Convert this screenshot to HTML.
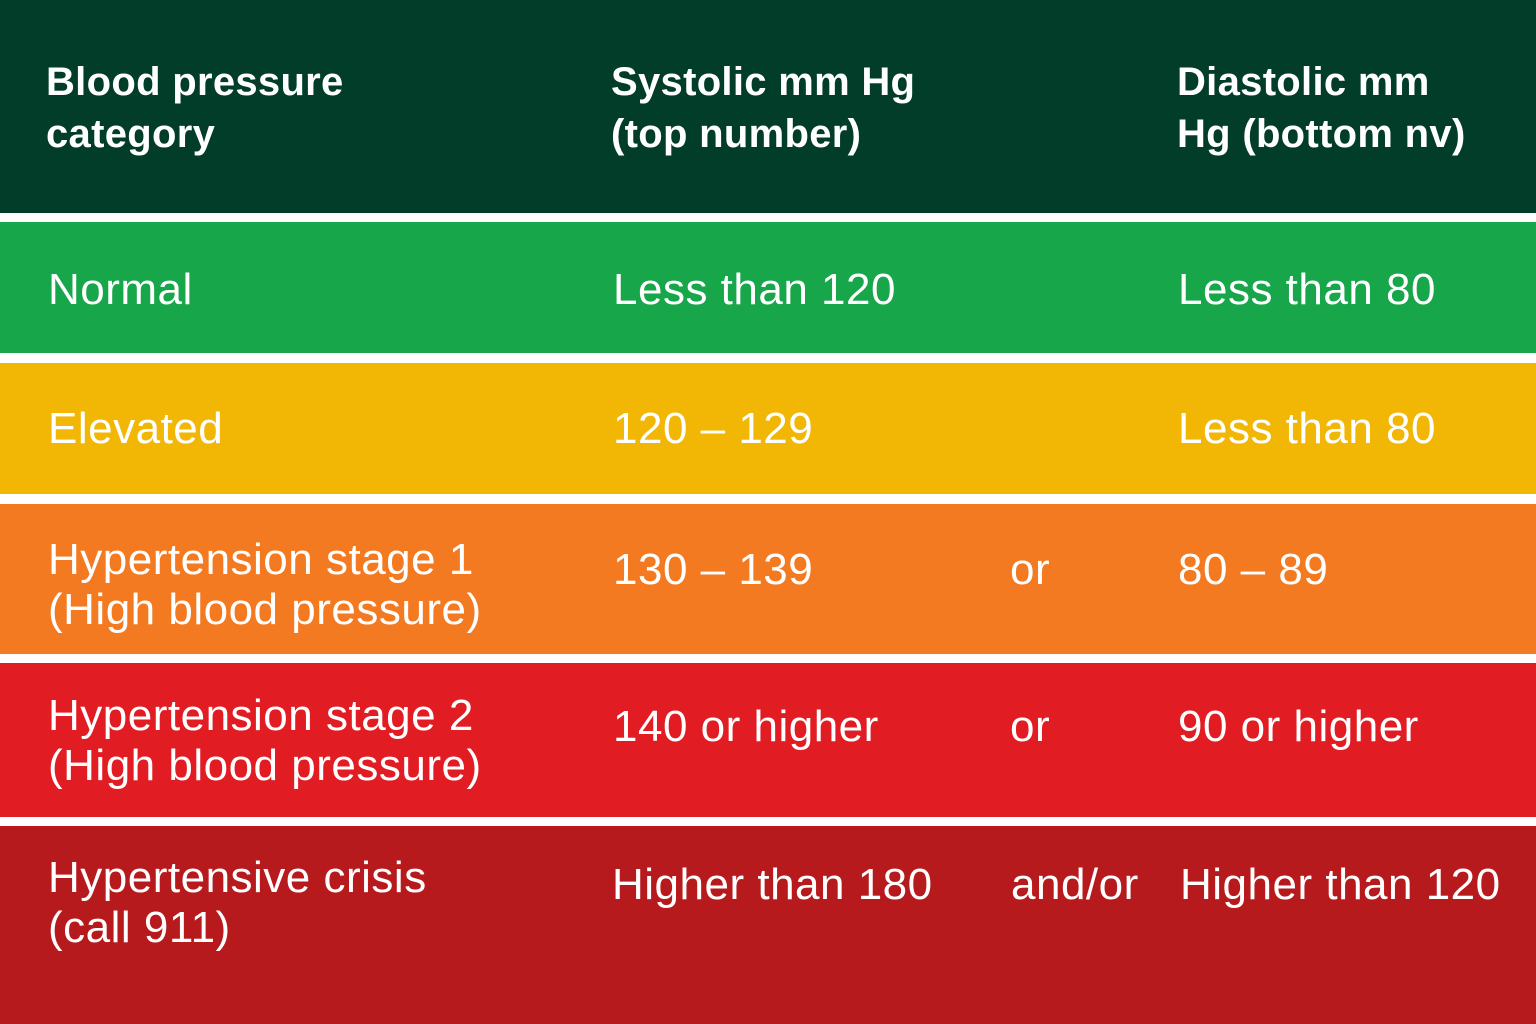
<!DOCTYPE html>
<html><head><meta charset="utf-8"><style>
html,body{margin:0;padding:0;width:1536px;height:1024px;background:#fff;overflow:hidden;font-family:"Liberation Sans",sans-serif;}
.row{position:absolute;left:0;width:1536px;}
.t{position:absolute;color:#fff;font-size:44px;line-height:44px;white-space:nowrap;letter-spacing:0.5px;}
.h{font-weight:bold;font-size:40px;line-height:52px;letter-spacing:0.3px;}
</style></head><body>
<div class="row" style="top:0;height:213px;background:#013d28">
 <div class="t h" style="left:46px;top:56px">Blood pressure<br>category</div>
 <div class="t h" style="left:611px;top:56px">Systolic mm Hg<br>(top number)</div>
 <div class="t h" style="left:1177px;top:56px">Diastolic mm<br>Hg (bottom nv)</div>
</div>
<div class="row" style="top:222px;height:131px;background:#17a64a">
 <div class="t" style="left:48px;top:46px">Normal</div>
 <div class="t" style="left:613px;top:46px">Less than 120</div>
 <div class="t" style="left:1178px;top:46px">Less than 80</div>
</div>
<div class="row" style="top:363px;height:131px;background:#f2b705">
 <div class="t" style="left:48px;top:44px">Elevated</div>
 <div class="t" style="left:613px;top:44px">120 – 129</div>
 <div class="t" style="left:1178px;top:44px">Less than 80</div>
</div>
<div class="row" style="top:504px;height:150px;background:#f37a21">
 <div class="t" style="left:48px;top:31px;line-height:50px">Hypertension stage 1<br>(High blood pressure)</div>
 <div class="t" style="left:613px;top:44px">130 – 139</div>
 <div class="t" style="left:1010px;top:44px">or</div>
 <div class="t" style="left:1178px;top:44px">80 – 89</div>
</div>
<div class="row" style="top:663px;height:154px;background:#e21c23">
 <div class="t" style="left:48px;top:28px;line-height:50px">Hypertension stage 2<br>(High blood pressure)</div>
 <div class="t" style="left:613px;top:42px">140 or higher</div>
 <div class="t" style="left:1010px;top:42px">or</div>
 <div class="t" style="left:1178px;top:42px">90 or higher</div>
</div>
<div class="row" style="top:826px;height:198px;background:#b71a1d">
 <div class="t" style="left:48px;top:27px;line-height:50px">Hypertensive crisis<br>(call 911)</div>
 <div class="t" style="left:612px;top:37px">Higher than 180</div>
 <div class="t" style="left:1011px;top:37px">and/or</div>
 <div class="t" style="left:1180px;top:37px">Higher than 120</div>
</div>
</body></html>
